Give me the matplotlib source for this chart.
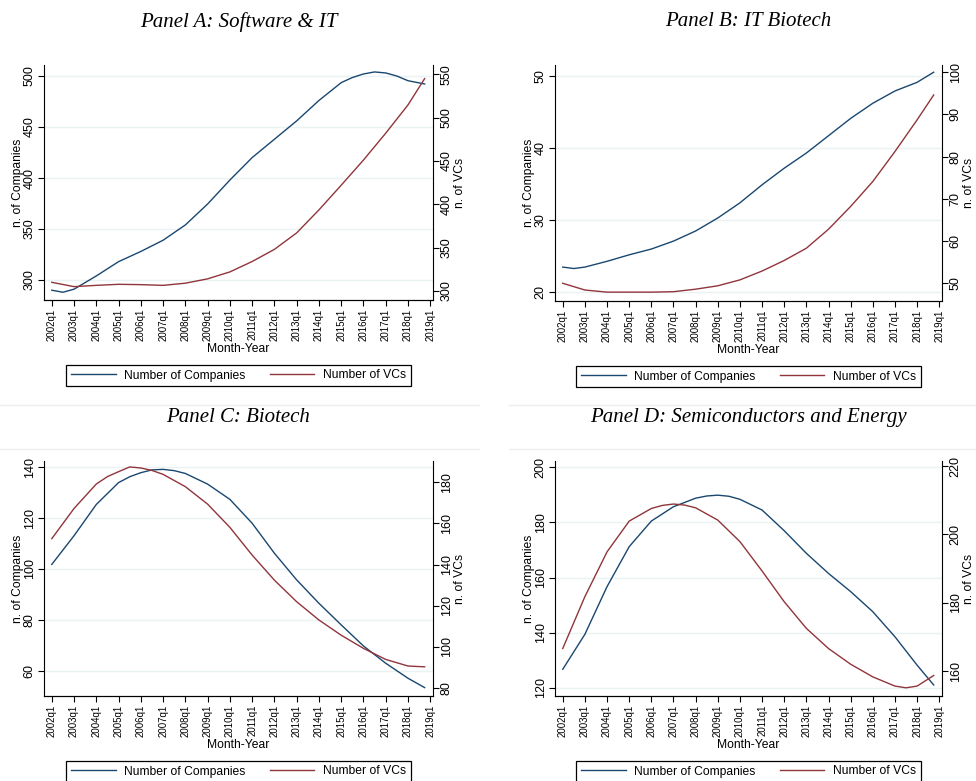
import matplotlib
matplotlib.use("Agg")
import matplotlib.pyplot as plt
from matplotlib.lines import Line2D

plt.rcParams["font.family"] = ["Liberation Sans", "DejaVu Sans"]

# quarter labels on the x axis (index 0 = 2002q1)
tick_q = list(range(0, 69, 4))
tick_labels = [f"{y}q1" for y in range(2002, 2020)]

# Panel A: Software & IT
a_comp_q = [0, 2, 4, 8, 12, 16, 20, 24, 28, 32, 36, 40, 44, 48, 52, 54, 56, 58, 60, 62, 64, 67]
a_comp = [290, 288, 291, 304, 318, 328, 339, 354, 374.5, 398, 420, 438, 456, 476, 493.5, 498.5, 502, 504, 503, 500, 495.4, 492.2]
a_vc_q = [0, 4, 8, 12, 16, 20, 24, 28, 32, 36, 40, 44, 48, 52, 56, 60, 64, 67]
a_vc = [310, 305, 306.5, 307.7, 307.3, 306.5, 309, 314, 322, 334, 348, 367, 393.5, 422, 451, 482, 514.6, 545]

# Panel B: IT Biotech
b_comp_q = [0, 2, 4, 8, 12, 16, 20, 24, 28, 32, 36, 40, 44, 48, 52, 56, 60, 64, 67]
b_comp = [23.5, 23.3, 23.5, 24.3, 25.2, 26.0, 27.1, 28.5, 30.3, 32.4, 34.9, 37.2, 39.3, 41.7, 44.1, 46.2, 47.9, 49.1, 50.5]
b_vc_q = [0, 4, 8, 12, 16, 20, 24, 28, 32, 36, 40, 44, 48, 52, 56, 60, 64, 67]
b_vc = [50, 48.4, 47.9, 47.9, 47.9, 48.0, 48.6, 49.4, 50.8, 52.9, 55.4, 58.3, 62.8, 68.2, 74.1, 81.2, 88.7, 94.6]

# Panel C: Biotech
c_comp_q = [0, 4, 8, 12, 14, 16, 18, 20, 22, 24, 28, 32, 36, 40, 44, 48, 52, 56, 60, 64, 67]
c_comp = [101.8, 113.1, 125.4, 134, 136.3, 137.9, 139, 139.2, 138.7, 137.6, 133.4, 127.4, 118, 106.2, 95.7, 86.5, 78, 69.7, 62.9, 57, 53.3]
c_vc_q = [0, 4, 8, 10, 12, 14, 16, 18, 20, 24, 28, 32, 36, 40, 44, 48, 52, 56, 60, 64, 67]
c_vc = [152.6, 167.3, 179.2, 182.8, 185.2, 187.5, 187.0, 185.8, 183.9, 177.9, 169.4, 158.1, 144.6, 132.4, 121.9, 113, 105.6, 99.2, 93.8, 90.6, 90.2]

# Panel D: Semiconductors and Energy
d_comp_q = [0, 4, 8, 12, 16, 20, 24, 26, 28, 30, 32, 36, 40, 44, 48, 52, 56, 60, 64, 67]
d_comp = [126.7, 139.4, 156.7, 171.2, 180.5, 185.7, 188.8, 189.6, 189.9, 189.5, 188.4, 184.5, 177, 168.8, 161.5, 154.9, 147.6, 138.5, 128.2, 121]
d_vc_q = [0, 4, 8, 12, 16, 18, 20, 22, 24, 28, 32, 36, 40, 44, 48, 52, 56, 60, 62, 64, 67]
d_vc = [166.6, 181.8, 194.9, 203.9, 207.6, 208.5, 208.9, 208.6, 207.8, 204.2, 197.9, 189.3, 180.3, 172.5, 166.6, 162, 158.3, 155.6, 155.1, 155.6, 158.7]

BLUE = "#1a476f"
RED = "#90353b"
GRID = "#eaf2f3"

fig = plt.figure(figsize=(9.76, 7.81), dpi=100)
W, H = 976, 781


def panel(x0, x1, y0, y1, title, cq, cv, vq, vv, lt, llim, rt, rlim):
    ax = fig.add_axes([x0 / W, 1 - y1 / H, (x1 - x0) / W, (y1 - y0) / H])
    ax2 = ax.twinx()
    ax.plot(cq, cv, color=BLUE, lw=1.0, label="Number of Companies")
    ax2.plot(vq, vv, color=RED, lw=1.0, label="Number of VCs")
    ax.set_xlim(-1.4, 68.5)
    ax.set_xticks(tick_q)
    ax.set_xticklabels(tick_labels, rotation=90, fontsize=7)
    ax.set_yticks(lt)
    ax.set_ylim(llim)
    ax2.set_yticks(rt)
    ax2.set_ylim(rlim)
    ax.tick_params(axis="y", labelrotation=90, labelsize=9, length=4, width=0.8, pad=2)
    ax2.tick_params(axis="y", labelrotation=90, labelsize=9, length=4, width=0.8, pad=1.5)
    for a in (ax, ax2):
        for lab in a.get_yticklabels():
            lab.set_va("center")
        a.spines["top"].set_visible(False)
    ax.tick_params(axis="x", length=4, width=0.8, pad=2)
    ax.spines["right"].set_visible(False)
    ax2.spines["left"].set_visible(False)
    ax.grid(axis="y", color=GRID, lw=1.0)
    ax.set_axisbelow(True)
    ax.set_ylabel("n. of Companies", fontsize=8.7, labelpad=0)
    ax2.set_ylabel("n. of VCs", fontsize=8.7, labelpad=1)
    ax.set_xlabel("Month-Year", fontsize=8.7, labelpad=2)
    fig.text((x0 + x1) / 2 / W, 1 - (y0 - 43) / H, title, ha="center", va="center",
             family="Liberation Serif", style="italic", fontsize=15)
    h1, l1 = ax.get_legend_handles_labels()
    h2, l2 = ax2.get_legend_handles_labels()
    leg = ax2.legend(h1 + h2, l1 + l2, loc="center", ncol=2,
                     bbox_to_anchor=((x0 + x1) / 2 / W, 1 - (y1 + 75.5) / H),
                     bbox_transform=fig.transFigure, fontsize=8.7,
                     handlelength=3.7, handletextpad=0.7, columnspacing=2.0,
                     fancybox=False, edgecolor="black", framealpha=1,
                     borderpad=0.4)
    leg.get_frame().set_linewidth(0.9)


panel(44, 433, 65, 300, "Panel A: Software & IT", a_comp_q, a_comp, a_vc_q, a_vc,
      [300, 350, 400, 450, 500], (280.4, 510.8), [300, 350, 400, 450, 500, 550], (289.6, 560.7))
panel(555, 942, 65, 301, "Panel B: IT Biotech", b_comp_q, b_comp, b_vc_q, b_vc,
      [20, 30, 40, 50], (18.8, 51.5), [50, 60, 70, 80, 90, 100], (45.8, 101.7))
panel(44, 433, 461, 696, "Panel C: Biotech", c_comp_q, c_comp, c_vc_q, c_vc,
      [60, 80, 100, 120, 140], (50, 142.5), [80, 100, 120, 140, 160, 180], (76, 190.4))
panel(555, 942, 461, 696, "Panel D: Semiconductors and Energy", d_comp_q, d_comp, d_vc_q, d_vc,
      [120, 140, 160, 180, 200], (117, 202.3), [160, 180, 200, 220], (152.7, 221.5))

# faint separators above the lower panels
for yy in (405, 449):
    fig.add_artist(Line2D([0, 479 / W], [1 - yy / H] * 2, color="#eeeeee", lw=1))
    fig.add_artist(Line2D([509 / W, 1], [1 - yy / H] * 2, color="#eeeeee", lw=1))

fig.savefig("out.png", dpi=100)
